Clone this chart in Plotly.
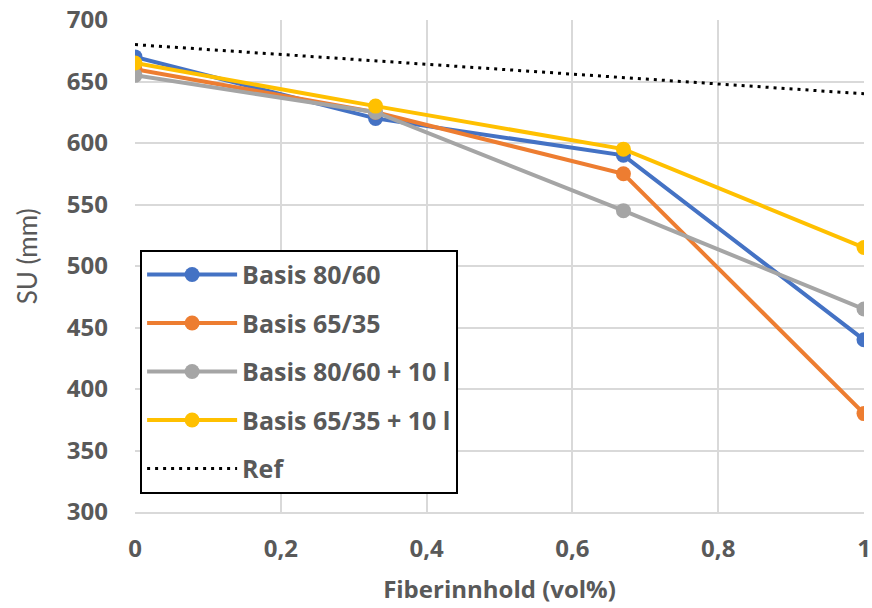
import plotly.graph_objects as go

# Fibre content (vol%) and slump (SU, mm) per mix
fiber = [0, 0.33, 0.67, 1]
basis_80_60 = [670, 620, 590, 440]
basis_65_35 = [660, 625, 575, 380]
basis_80_60_10l = [655, 625, 545, 465]
basis_65_35_10l = [665, 630, 595, 515]
ref_x = [0, 1]
ref_y = [680, 640]

series = [
    ("Basis 80/60", basis_80_60, "#4472C4"),
    ("Basis 65/35", basis_65_35, "#ED7D31"),
    ("Basis 80/60 + 10 l", basis_80_60_10l, "#A5A5A5"),
    ("Basis 65/35 + 10 l", basis_65_35_10l, "#FFC000"),
]

text_col = "#595959"
grid_col = "#D9D9D9"

fig = go.Figure()
for i, (name, vals, col) in enumerate(series):
    fig.add_trace(go.Scatter(
        x=fiber, y=vals, name=name, mode="lines+markers",
        legendgroup=f"g{i}",
        line=dict(color=col, width=4),
        marker=dict(color=col, size=15),
    ))
fig.add_trace(go.Scatter(
    x=ref_x, y=ref_y, name="Ref", mode="lines", legendgroup="ref",
    line=dict(color="black", width=3, dash="3px,5px"),
))

fig.update_layout(
    width=872, height=608,
    margin=dict(l=135, r=8, t=20, b=96),
    paper_bgcolor="white", plot_bgcolor="white",
    font=dict(family="Open Sans", color=text_col),
    showlegend=True,
    legend=dict(
        x=0.007, y=0.533, xanchor="left", yanchor="top",
        bordercolor="black", borderwidth=2, bgcolor="white",
        font=dict(size=25, color=text_col, weight="bold"),
        tracegroupgap=13, itemwidth=90,
    ),
    annotations=[dict(
        text="SU (mm)", textangle=-90, showarrow=False,
        xref="paper", yref="paper", x=-0.148, y=0.52,
        xanchor="center", yanchor="middle",
        font=dict(family="Lato", size=26, color=text_col),
    )],
)
fig.update_xaxes(
    range=[0, 1], tickvals=[0, 0.2, 0.4, 0.6, 0.8, 1],
    ticktext=["0", "0,2", "0,4", "0,6", "0,8", "1"],
    showgrid=True, gridcolor=grid_col, gridwidth=2,
    showline=True, linecolor=grid_col, linewidth=2,
    zeroline=False, ticks="", ticklabelstandoff=14, automargin=False,
    tickfont=dict(size=24, color=text_col, weight="bold"),
    title=dict(text="Fiberinnhold (vol%)", standoff=18,
               font=dict(family="Open Sans", size=24, color=text_col, weight="bold")),
)
fig.update_yaxes(
    range=[300, 700], dtick=50,
    showgrid=True, gridcolor=grid_col, gridwidth=2,
    showline=False, zeroline=False, ticks="", ticklabelstandoff=26, automargin=False,
    tickfont=dict(size=24, color=text_col, weight="bold"),
)

fig.write_html("out.html")
